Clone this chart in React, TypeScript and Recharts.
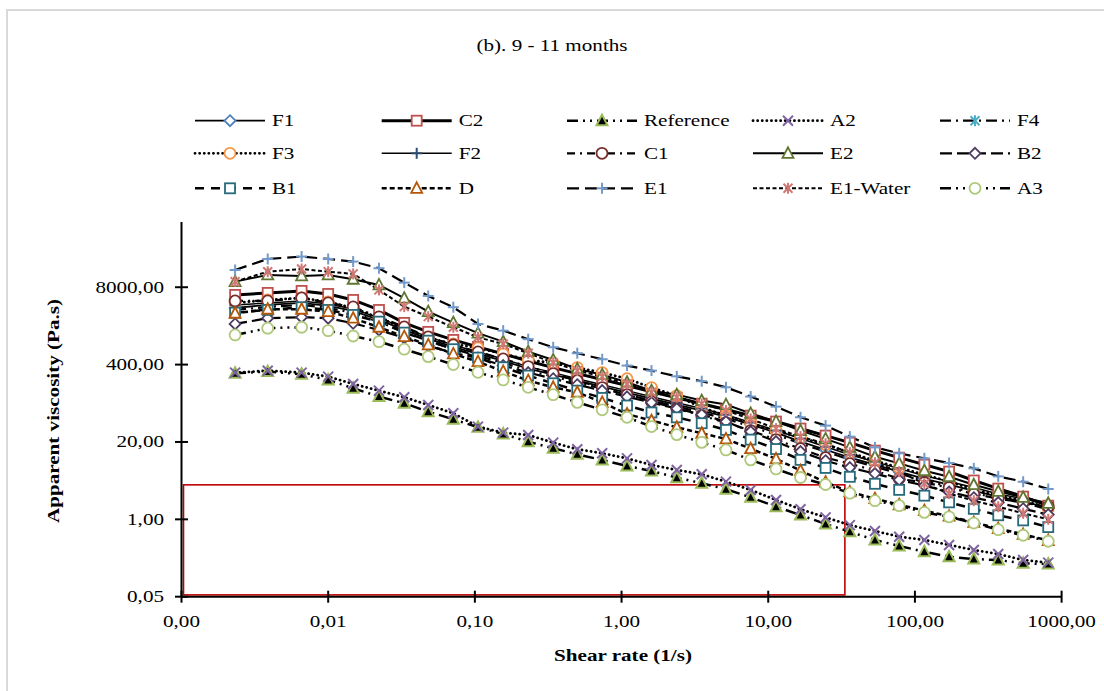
import React from 'react';
import { LineChart, Line, XAxis, YAxis, ReferenceArea } from 'recharts';

// shear rate (1/s) of every measured point
const shearRate = [
  0.00232, 0.00387, 0.00659, 0.01, 0.0148, 0.0222, 0.033, 0.0481, 0.0713,
  0.105, 0.156, 0.231, 0.342, 0.499, 0.738, 1.09, 1.6, 2.38, 3.52, 5.15, 7.59,
  11.3, 16.6, 24.6, 36.0, 53.4, 78.1, 116, 171, 252, 370, 547, 811,
];

// apparent viscosity (Pa.s), one list per sample
const F1 = [3590, 4030, 4350, 3880, 3190, 2255, 1530, 1080, 793, 605, 461, 343, 271, 215, 170, 135, 107, 84.8, 67, 53.4, 39.2, 28.8, 20.3, 14.8, 10.9, 8.31, 6.35, 4.81, 3.85, 3.0, 2.41, 1.98, 1.57];
const C2 = [5940, 6420, 6940, 6170, 4890, 3320, 2010, 1420, 1040, 793, 605, 461, 356, 282, 224, 177, 140, 111, 88.1, 70.2, 55.5, 44.1, 33.6, 25.6, 19.5, 14.3, 10.9, 8.31, 6.35, 4.5, 3.29, 2.41, 1.7];
const Reference = [286, 305, 275, 221, 160, 116, 89.5, 64.7, 48.2, 35.3, 27.3, 20.2, 15.7, 12.4, 9.96, 7.89, 6.5, 5.02, 4.04, 3.21, 2.35, 1.63, 1.18, 0.836, 0.619, 0.45, 0.356, 0.286, 0.235, 0.215, 0.207, 0.182, 0.177];
const A2 = [293, 316, 293, 251, 189, 146, 113, 83.9, 60.8, 36.2, 28.7, 26.2, 19.5, 15.1, 12.9, 10.6, 8.2, 6.76, 5.73, 4.3, 3.12, 2.12, 1.48, 1.08, 0.8, 0.637, 0.511, 0.45, 0.371, 0.305, 0.261, 0.207, 0.187];
const F4 = [3320, 3730, 4030, 3590, 2960, 2090, 1420, 1000, 734, 560, 426, 317, 251, 199, 158, 125, 99, 78.9, 62.0, 49.4, 36.3, 26.6, 18.8, 13.8, 10.1, 7.7, 5.88, 4.5, 3.56, 2.78, 2.23, 1.91, 1.46];
const F3 = [4350, 4890, 5290, 4530, 3590, 2440, 1660, 1120, 891, 763, 605, 479, 426, 356, 293, 232, 164, 120, 75.9, 55.5, 40.8, 31.1, 23.7, 18.1, 13.2, 9.7, 7.4, 5.65, 4.33, 3.17, 2.5, 2.06, 1.57];
const F2 = [4030, 4350, 4700, 4190, 3450, 2440, 1660, 1170, 857, 653, 498, 370, 293, 232, 184, 146, 115, 91.6, 73, 57.4, 42.4, 31.1, 22.8, 16.6, 12.2, 9.33, 7.12, 5.4, 4.33, 3.42, 2.67, 2.23, 1.76];
const C1 = [4700, 4700, 5290, 4350, 3730, 2540, 1720, 1170, 857, 653, 498, 370, 282, 215, 164, 125, 95.2, 73.0, 55.5, 42.4, 31.1, 21.9, 15.4, 10.9, 8.63, 6.6, 4.81, 4.16, 3.42, 2.67, 2.23, 1.91, 1.64];
const E2 = [9940, 12900, 12400, 12900, 10900, 8740, 5230, 3110, 2030, 1350, 973, 661, 479, 339, 271, 202, 146, 125, 99.3, 85.0, 60.6, 44.4, 31.1, 22.5, 16.2, 11.3, 8.73, 6.58, 5.21, 3.82, 2.95, 2.34, 1.86];
const B2 = [1930, 2410, 2510, 2410, 1980, 1530, 1120, 824, 628, 518, 385, 293, 232, 184, 146, 115, 91.6, 73, 57.4, 44.1, 29.9, 20.3, 13.8, 9.7, 7.4, 5.88, 4.62, 3.7, 2.89, 2.31, 1.91, 1.51, 1.2];
const B1 = [2990, 3320, 3690, 3320, 2740, 2110, 1380, 1010, 726, 524, 360, 261, 194, 146, 110, 82, 62.7, 51.9, 41.3, 31.9, 21.9, 15.2, 10.0, 7.32, 5.19, 3.96, 3.13, 2.5, 1.93, 1.5, 1.17, 0.96, 0.74];
const D = [2920, 3410, 3410, 3110, 2410, 1700, 1180, 857, 605, 448, 308, 215, 166, 137, 92.7, 59.0, 45.8, 35.3, 28.0, 22.5, 15.4, 10.4, 6.6, 4.21, 2.89, 2.23, 1.76, 1.4, 1.13, 0.89, 0.7, 0.56, 0.44];
const E1 = [15600, 23900, 26200, 23900, 21600, 16700, 9560, 5710, 3690, 1930, 1490, 1070, 783, 621, 492, 385, 317, 254, 210, 166, 116, 78.6, 52.0, 37.7, 24.6, 16.2, 12.9, 10.6, 8.87, 7.2, 5.27, 4.3, 3.24];
const E1Water = [9940, 14600, 16200, 14600, 13400, 7210, 3770, 2560, 1700, 1150, 890, 621, 431, 317, 251, 189, 137, 113, 87.3, 67.4, 48.8, 33.5, 24.6, 18.7, 13.2, 8.97, 6.33, 3.98, 2.7, 2.06, 1.63, 1.26, 1.0];
const A3 = [1260, 1640, 1700, 1490, 1210, 973, 726, 545, 400, 297, 221, 166, 125, 92.7, 69.5, 51.9, 36.3, 26.6, 19.7, 14.7, 10.0, 7.04, 5.05, 3.85, 2.75, 2.06, 1.7, 1.31, 1.1, 0.865, 0.669, 0.54, 0.428];

const xTicks = [0.001, 0.01, 0.1, 1, 10, 100, 1000];
const yTicks = [0.05, 1, 20, 400, 8000];

// red frame drawn on the plot
const boxX = [0.001, 33.3];
const boxY = [0.05, 3.8];

type Shape = 'diamond' | 'square' | 'triangle' | 'solidTriangle' | 'x' | 'star' | 'circle' | 'plus';

type Series = {
  name: string;
  data: number[];
  color: string;
  shape: Shape;
  width: number;
  dash?: string;
  round?: boolean;
};

const series: Series[] = [
  { name: 'F1', data: F1, color: '#4F81BD', shape: 'diamond', width: 1.8 },
  { name: 'C2', data: C2, color: '#C0504D', shape: 'square', width: 3 },
  { name: 'Reference', data: Reference, color: '#9BBB59', shape: 'solidTriangle', width: 2.5, dash: '11 5 2 5 2 5' },
  { name: 'A2', data: A2, color: '#8064A2', shape: 'x', width: 2.8, dash: '0.1 4.5', round: true },
  { name: 'F4', data: F4, color: '#4BACC6', shape: 'star', width: 2.2, dash: '11 5 2 5' },
  { name: 'F3', data: F3, color: '#F79646', shape: 'circle', width: 2.8, dash: '0.1 4.5', round: true },
  { name: 'F2', data: F2, color: '#2C4D75', shape: 'plus', width: 1.5 },
  { name: 'C1', data: C1, color: '#772C2A', shape: 'circle', width: 2.2, dash: '8 5 2 5' },
  { name: 'E2', data: E2, color: '#5F7530', shape: 'triangle', width: 2 },
  { name: 'B2', data: B2, color: '#4D3B62', shape: 'diamond', width: 2.2, dash: '12 5' },
  { name: 'B1', data: B1, color: '#276A7C', shape: 'square', width: 2.5, dash: '9 7' },
  { name: 'D', data: D, color: '#B65708', shape: 'triangle', width: 2.5, dash: '5 3' },
  { name: 'E1', data: E1, color: '#729ACA', shape: 'plus', width: 2.2, dash: '12 6' },
  { name: 'E1-Water', data: E1Water, color: '#D07874', shape: 'star', width: 2, dash: '4 2.5' },
  { name: 'A3', data: A3, color: '#AFC97A', shape: 'circle', width: 2.5, dash: '11 5 2 5 2 5' },
];

const rows = shearRate.map((x, i) => {
  const r: Record<string, number> = { x };
  for (const s of series) r[s.name] = s.data[i];
  return r;
});

const FONT = "'Liberation Serif', 'Times New Roman', serif";
const STRETCH = 1.32;

function fmt(v: number): string {
  return v.toFixed(2).replace('.', ',');
}

function Marker({ shape, x, y, color }: { shape: Shape; x: number; y: number; color: string }) {
  const sw = 1.8;
  switch (shape) {
    case 'diamond':
      return <polygon points={`${x},${y - 5.5} ${x + 5.5},${y} ${x},${y + 5.5} ${x - 5.5},${y}`} fill="#fff" stroke={color} strokeWidth={sw} />;
    case 'square':
      return <rect x={x - 5} y={y - 5} width={10} height={10} fill="#fff" stroke={color} strokeWidth={sw} />;
    case 'triangle':
      return <polygon points={`${x},${y - 6} ${x + 5.5},${y + 4.5} ${x - 5.5},${y + 4.5}`} fill="#fff" stroke={color} strokeWidth={sw} />;
    case 'solidTriangle':
      return <polygon points={`${x},${y - 6} ${x + 5.5},${y + 4.5} ${x - 5.5},${y + 4.5}`} fill="#000" stroke={color} strokeWidth={2} />;
    case 'circle':
      return <circle cx={x} cy={y} r={5.5} fill="#fff" stroke={color} strokeWidth={sw} />;
    case 'x':
      return (
        <g stroke={color} strokeWidth={2}>
          <line x1={x - 5} y1={y - 5} x2={x + 5} y2={y + 5} />
          <line x1={x - 5} y1={y + 5} x2={x + 5} y2={y - 5} />
        </g>
      );
    case 'plus':
      return (
        <g stroke={color} strokeWidth={2}>
          <line x1={x - 5.5} y1={y} x2={x + 5.5} y2={y} />
          <line x1={x} y1={y - 5.5} x2={x} y2={y + 5.5} />
        </g>
      );
    case 'star':
    default:
      return (
        <g stroke={color} strokeWidth={2}>
          <line x1={x - 4.5} y1={y - 4.5} x2={x + 4.5} y2={y + 4.5} />
          <line x1={x - 4.5} y1={y + 4.5} x2={x + 4.5} y2={y - 4.5} />
          <line x1={x} y1={y - 5.5} x2={x} y2={y + 5.5} />
        </g>
      );
  }
}

function SText({ x, y, anchor = 'middle', bold, rotate, children }: any) {
  return (
    <text
      transform={`translate(${x},${y})${rotate ? ' rotate(-90)' : ''} scale(${STRETCH},1)`}
      textAnchor={anchor}
      fontFamily={FONT}
      fontSize={16}
      fontWeight={bold ? 700 : 400}
      fill="#000"
    >
      {children}
    </text>
  );
}

function YTick({ x, y, payload }: any) {
  return (
    <g>
      <line x1={x - 6.5} x2={x + 6.5} y1={y} y2={y} stroke="#000" strokeWidth={2} />
      <SText x={x - 17.5} y={y + 5.5} anchor="end">{fmt(payload.value)}</SText>
    </g>
  );
}

function XTick({ x, y, payload }: any) {
  return (
    <g>
      <line x1={x} x2={x} y1={y - 6} y2={y + 6} stroke="#000" strokeWidth={2} />
      <SText x={x} y={y + 30}>{fmt(payload.value)}</SText>
    </g>
  );
}

// the frame sits just inside the axes so its left and bottom edges stay visible
function RedFrame(p: any) {
  return (
    <rect
      x={p.x + 2}
      y={p.y}
      width={p.width - 2}
      height={p.height - 1.8}
      fill="none"
      stroke="#C00000"
      strokeWidth={1.6}
    />
  );
}

const legendCols = [195, 381.7, 567, 753, 940];
const legendRows = [120.7, 153.3, 188.3];

function LegendBox() {
  return (
    <g>
      {series.map((s, i) => {
        const lx = legendCols[i % 5];
        const ly = legendRows[Math.floor(i / 5)];
        return (
          <g key={s.name}>
            <line
              x1={lx}
              x2={lx + 70}
              y1={ly}
              y2={ly}
              stroke="#000"
              strokeWidth={s.width}
              strokeDasharray={s.dash}
              strokeLinecap={s.round ? 'round' : 'butt'}
            />
            <Marker shape={s.shape} x={lx + 35} y={ly} color={s.color} />
            <SText x={lx + 77} y={ly + 5.5} anchor="start">{s.name}</SText>
          </g>
        );
      })}
    </g>
  );
}

export default function App() {
  return (
    <div style={{ position: 'absolute', left: 0, top: 0, width: 1104, height: 691, background: '#fff', overflow: 'hidden' }}>
      <div
        style={{
          position: 'absolute', left: 6, top: 9, width: 1200, height: 800,
          borderLeft: '2px solid #d9d9d9', borderTop: '2px solid #d9d9d9',
        }}
      />
      <div style={{ position: 'absolute', left: 0, top: 0 }}>
        <LineChart
          width={1104}
          height={691}
          data={rows}
          margin={{ top: 222, right: 42.4, bottom: 54.3, left: 81.5 }}
        >
          <XAxis
            dataKey="x"
            type="number"
            scale="log"
            domain={[0.001, 1000]}
            ticks={xTicks}
            allowDataOverflow
            height={40}
            tickSize={0}
            tickMargin={0}
            tickLine={false}
            axisLine={{ stroke: '#000', strokeWidth: 2 }}
            tick={<XTick />}
            interval={0}
          />
          <YAxis
            type="number"
            scale="log"
            domain={[0.05, 100000]}
            ticks={yTicks}
            allowDataOverflow
            width={100}
            tickSize={0}
            tickMargin={0}
            tickLine={false}
            axisLine={{ stroke: '#000', strokeWidth: 2 }}
            tick={<YTick />}
            interval={0}
          />
          <ReferenceArea
            x1={boxX[0]}
            x2={boxX[1]}
            y1={boxY[0]}
            y2={boxY[1]}
            ifOverflow="visible"
            shape={RedFrame}
          />
          {series.map((s) => (
            <Line
              key={s.name}
              dataKey={s.name}
              type="linear"
              stroke="#000"
              strokeWidth={s.width}
              strokeDasharray={s.dash}
              strokeLinecap={s.round ? 'round' : 'butt'}
              isAnimationActive={false}
              dot={(p: any) => (
                <Marker key={`${s.name}-${p.index}`} shape={s.shape} x={p.cx} y={p.cy} color={s.color} />
              )}
              activeDot={false}
            />
          ))}
        </LineChart>
      </div>
      <svg width={1104} height={691} style={{ position: 'absolute', left: 0, top: 0, pointerEvents: 'none' }}>
        <SText x={552} y={51}>(b). 9 - 11 months</SText>
        <LegendBox />
        <SText x={623} y={661} bold>Shear rate (1/s)</SText>
        <SText x={58.5} y={411} bold rotate>Apparent viscosity (Pa.s)</SText>
      </svg>
    </div>
  );
}
